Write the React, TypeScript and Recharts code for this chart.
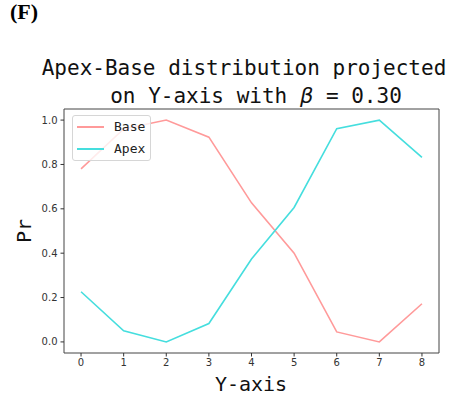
import React from "react";
import { LineChart, Line, XAxis, YAxis, ReferenceArea } from "recharts";

// Positions along the Y-axis (bins)
const positions = [0, 1, 2, 3, 4, 5, 6, 7, 8];
// Normalised probability for each series
const baseValues = [0.78, 0.96, 1.0, 0.923, 0.627, 0.4, 0.045, 0.0, 0.172];
const apexValues = [0.226, 0.05, 0.0, 0.083, 0.374, 0.606, 0.961, 1.0, 0.832];
const yTicks = [0, 0.2, 0.4, 0.6, 0.8, 1.0];

const data = positions.map((p, i) => ({
  pos: p,
  Base: baseValues[i],
  Apex: apexValues[i],
}));

const BASE_COLOR = "#ff9a9a";
const APEX_COLOR = "#45dede";
const MONO = "'DejaVu Sans Mono', monospace";
const SANS = "'DejaVu Sans', sans-serif";

const legendItems = [
  { name: "Base", color: BASE_COLOR, y: 11 },
  { name: "Apex", color: APEX_COLOR, y: 33 },
];

const LegendBox = () => (
  <div
    style={{
      position: "absolute",
      left: 72,
      top: 115,
      width: 79,
      height: 46,
      boxSizing: "border-box",
      border: "1px solid #d6d6d6",
      borderRadius: 3,
      background: "rgba(255,255,255,0.8)",
      fontFamily: MONO,
      fontSize: 13,
      color: "#222",
    }}
  >
    {legendItems.map((e) => (
      <React.Fragment key={e.name}>
        <div
          style={{
            position: "absolute",
            left: 4,
            top: e.y - 1,
            width: 27,
            height: 2,
            background: e.color,
          }}
        />
        <div
          style={{
            position: "absolute",
            left: 41,
            top: e.y - 8,
            lineHeight: "16px",
            fontFamily: MONO,
          }}
        >
          {e.name}
        </div>
      </React.Fragment>
    ))}
  </div>
);

export default function App() {
  return (
    <div
      style={{
        position: "absolute",
        left: 0,
        top: 0,
        width: 449,
        height: 402,
        background: "#fff",
      }}
    >
      <svg
        width={449}
        height={402}
        style={{ position: "absolute", left: 0, top: 0 }}
      >
        <text
          x={10}
          y={19}
          fontFamily="'Liberation Serif', 'Times New Roman', serif"
          fontWeight="bold"
          fontSize={22}
          fill="#000"
        >
          (F)
        </text>
        <text
          x={244}
          y={75}
          textAnchor="middle"
          fontFamily={MONO}
          fontSize={21}
          fill="#111"
        >
          Apex-Base distribution projected
        </text>
        <text
          x={256}
          y={103}
          textAnchor="middle"
          fontFamily={MONO}
          fontSize={21}
          fill="#111"
        >
          on Y-axis with{" "}
          <tspan fontFamily={SANS} fontStyle="italic">
            β
          </tspan>{" "}
          = 0.30
        </text>
        <text
          x={0}
          y={0}
          transform="translate(31 231) rotate(-90)"
          textAnchor="middle"
          fontFamily={MONO}
          fontSize={20}
          fill="#111"
        >
          Pr
        </text>
        <text
          x={251}
          y={391}
          textAnchor="middle"
          fontFamily={MONO}
          fontSize={20}
          fill="#111"
        >
          Y-axis
        </text>
      </svg>
      <div style={{ position: "absolute", left: 0, top: 0 }}>
        <LineChart
          width={449}
          height={402}
          data={data}
          margin={{ top: 109, right: 10, bottom: 19, left: 24 }}
        >
          <XAxis
            dataKey="pos"
            type="number"
            domain={[-0.4, 8.4]}
            ticks={positions}
            allowDataOverflow
            axisLine={false}
            tickLine={{ stroke: "#333", strokeWidth: 1 }}
            tickSize={3.5}
            tickMargin={2}
            height={30}
            tick={{ fontFamily: SANS, fontSize: 10, fill: "#333" }}
          />
          <YAxis
            type="number"
            domain={[-0.05, 1.05]}
            ticks={yTicks}
            allowDataOverflow
            axisLine={false}
            tickLine={{ stroke: "#333", strokeWidth: 1 }}
            tickSize={3.5}
            tickMargin={3}
            width={40}
            tickFormatter={(v: number) => v.toFixed(1)}
            tick={{ fontFamily: SANS, fontSize: 10, fill: "#333" }}
          />
          <ReferenceArea
            x1={-0.4}
            x2={8.4}
            y1={-0.05}
            y2={1.05}
            fill="none"
            stroke="#444"
            strokeWidth={1}
            ifOverflow="visible"
          />
          <Line
            dataKey="Base"
            stroke={BASE_COLOR}
            strokeWidth={1.6}
            dot={false}
            isAnimationActive={false}
          />
          <Line
            dataKey="Apex"
            stroke={APEX_COLOR}
            strokeWidth={1.6}
            dot={false}
            isAnimationActive={false}
          />
        </LineChart>
      </div>
      <LegendBox />
    </div>
  );
}
